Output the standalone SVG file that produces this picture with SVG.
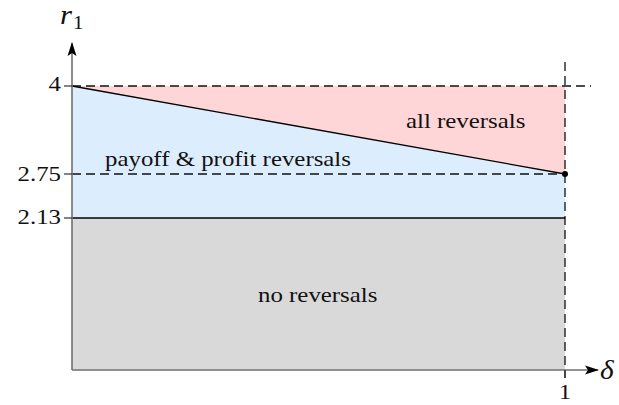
<svg xmlns="http://www.w3.org/2000/svg" width="619" height="405" viewBox="0 0 619 405">
<defs>
<style>
text{font-family:"Liberation Serif","Times New Roman",serif;font-size:22px;fill:#111}
text.big{font-size:28px;font-style:italic}
text.sub{font-size:19px}
.dash{stroke:#111;stroke-width:1.3;stroke-dasharray:9,5;fill:none}
.axis{stroke:#707070;stroke-width:1.6;fill:none}
.tick{stroke:#333;stroke-width:1.2}
</style>
<marker id="arr" markerWidth="14" markerHeight="10" viewBox="0 0 14 10" refX="13" refY="5" orient="auto" markerUnits="userSpaceOnUse">
<path d="M0,0.5 L14,5 L0,9.5 L3,5 Z" fill="#000"/>
</marker>
</defs>
<g id="regions">
<polygon id="region-all" points="72,86 565,86 565,174" fill="#ffd6d7"/>
<polygon id="region-payoff" points="72,86 565,174 565,218 72,218" fill="#dcedfd"/>
<rect id="region-none" x="72" y="218" width="493" height="152" fill="#d9d9d9"/>
</g>
<g id="connectors">
<line class="dash" x1="72" y1="86" x2="591" y2="86"/>
<line class="dash" x1="72" y1="174" x2="565" y2="174"/>
<line class="dash" x1="565" y1="62" x2="565" y2="378"/>
<line x1="72" y1="86" x2="565" y2="174" stroke="#000" stroke-width="1.3"/>
<line x1="72" y1="218" x2="565" y2="218" stroke="#000" stroke-width="1.3"/>
<line class="axis" x1="72" y1="370" x2="72" y2="43" marker-end="url(#arr)"/>
<line class="axis" x1="72" y1="370" x2="598" y2="370" marker-end="url(#arr)"/>
<line class="tick" x1="64" y1="86" x2="72" y2="86"/>
<line class="tick" x1="64" y1="174" x2="72" y2="174"/>
<line class="tick" x1="64" y1="218" x2="72" y2="218"/>
<line class="tick" x1="565" y1="370" x2="565" y2="378"/>
</g>
<g id="point"><circle cx="565" cy="174" r="3" fill="#000"/></g>
<g id="labels">
<text transform="translate(61,91) scale(1.13,1)" text-anchor="end">4</text>
<text transform="translate(61,181) scale(1.13,1)" text-anchor="end">2.75</text>
<text transform="translate(61,224) scale(1.13,1)" text-anchor="end">2.13</text>
<text transform="translate(565,399) scale(1.13,1)" text-anchor="middle">1</text>
<text class="big" transform="translate(60,24) scale(1.1,1)">r</text>
<text class="sub" transform="translate(73,29) scale(1.1,1)">1</text>
<text class="big" transform="translate(600,379) scale(1.05,1)">δ</text>
</g>
<g id="node-all"><text transform="translate(406,128) scale(1.13,1)">all reversals</text></g>
<g id="node-payoff"><text transform="translate(105,166) scale(1.13,1)">payoff &amp; profit reversals</text></g>
<g id="node-none"><text transform="translate(258,302) scale(1.13,1)">no reversals</text></g>
</svg>
